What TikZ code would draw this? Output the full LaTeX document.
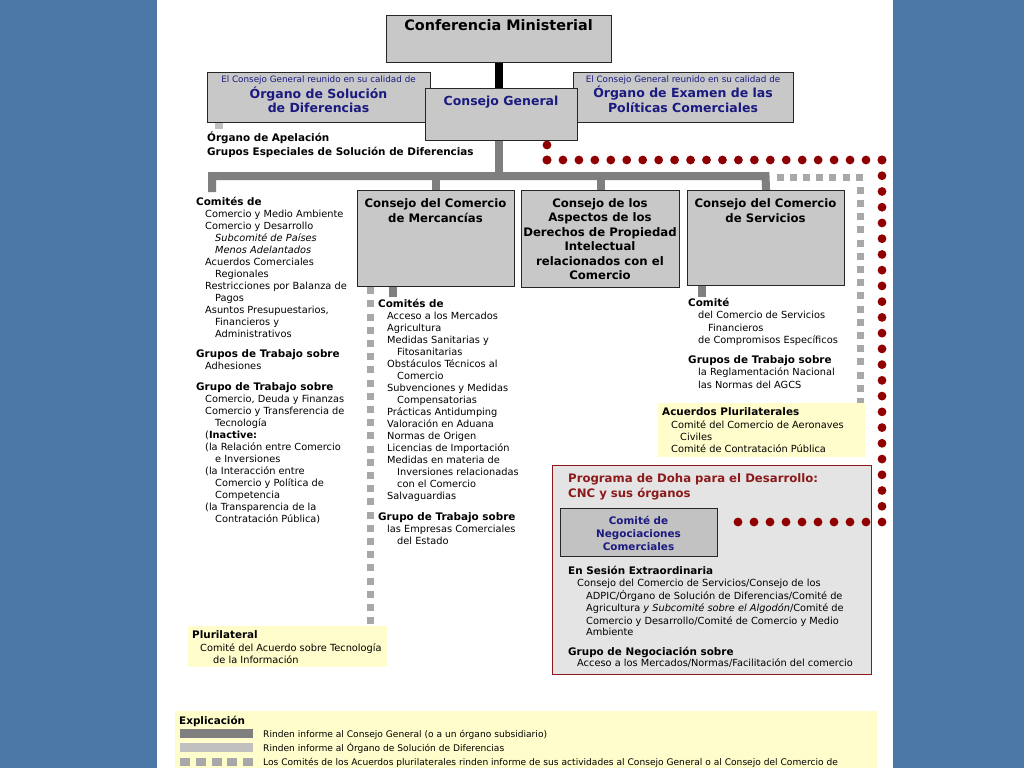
\documentclass[tikz,border=0pt]{standalone}
\usepackage{fontspec}
\setmainfont{DejaVu Sans}
\definecolor{bgblue}{HTML}{4C78A8}
\definecolor{boxgray}{HTML}{C8C8C8}
\definecolor{cncgray}{HTML}{C2C2C2}
\definecolor{dohagray}{HTML}{E4E4E4}
\definecolor{barA}{HTML}{7F7F7F}
\definecolor{barB}{HTML}{C0C0C0}
\definecolor{sqgray}{HTML}{A8A8A8}
\definecolor{pyellow}{HTML}{FFFDCC}
\definecolor{tblue}{HTML}{1A1A80}
\definecolor{dred}{HTML}{8C1A1A}
\definecolor{dotred}{HTML}{900000}
\newcommand\fbody{\fontsize{9.8}{12}\selectfont}
\newcommand\fhead{\fontsize{10.4}{12}\selectfont\bfseries}
\newcommand\fsmall{\fontsize{8.8}{10}\selectfont}
\newcommand\flegend{\fontsize{9.1}{10}\selectfont}
\newcommand\ftitle{\fontsize{11.7}{14}\selectfont\bfseries}
\newcommand\fbig{\fontsize{12.5}{14}\selectfont\bfseries}
\newcommand\fconf{\fontsize{14.4}{16}\selectfont\bfseries}
\newcounter{lnc}
\newcommand\Ln[4][]{\stepcounter{lnc}\node[txt,#1] (ln\arabic{lnc}) at (#2,#3) {#4};}
\begin{document}
\begin{tikzpicture}[x=1pt,y=-1pt,
  box/.style={draw=black!85, line width=1.1pt, fill=boxgray, inner sep=0pt, anchor=north west},
  ybox/.style={fill=pyellow, inner sep=0pt, anchor=north west},
  txt/.style={anchor=base west, inner sep=0pt, font=\fbody},
  ctxt/.style={anchor=base, inner sep=0pt},
  blackbar/.style={draw=black, line width=8pt},
  darkbar/.style={draw=barA, line width=8pt},
  lightbar/.style={draw=barB, line width=8pt},
  sqline/.style={draw=sqgray, line width=7pt, dash pattern=on 7pt off 6.2pt},
  reddots/.style={draw=dotred, line width=8.8pt, line cap=round, dash pattern=on 0pt off #1pt}]
\useasboundingbox (0,0) rectangle (1024,768);
\fill[bgblue] (0,0) rectangle (1024,768);
\fill[white] (157,0) rectangle (893,768);

% ---------- boxes ----------
\node[box, minimum width=225pt, minimum height=47pt] (cm) at (386,15) {};
\node[box, minimum width=223pt, minimum height=50pt] (osd) at (207,72) {};
\node[box, minimum width=220pt, minimum height=50pt] (oepc) at (573,72) {};
\node[box, minimum width=152pt, minimum height=52pt] (cg) at (425,88) {};
\node[box, minimum width=157pt, minimum height=96pt] (merc) at (357,190) {};
\node[box, minimum width=158pt, minimum height=97pt] (trips) at (521,190) {};
\node[box, minimum width=157pt, minimum height=95pt] (serv) at (687,190) {};
\node[ybox, minimum width=207pt, minimum height=54pt] (acu) at (658,403) {};
\node[box, draw=dred, line width=1pt, fill=dohagray, minimum width=319pt, minimum height=209pt] (doha) at (552,465) {};
\node[box, fill=cncgray, minimum width=157pt, minimum height=48pt] (cnc) at (560,508) {};
\node[ybox, minimum width=199pt, minimum height=41pt] (plu) at (188,626) {};
\node[ybox, minimum width=702pt, minimum height=57pt] (leg) at (175,711) {};

% ---------- connectors ----------
\draw[blackbar] (cm.south) -- (cm.south |- cg.north);
\coordinate (barL) at (212,176);
\coordinate (barR) at (765.5,176);
\coordinate (comL) at (212,192);
\draw[darkbar] (cm.south |- cg.south) -- (cm.south |- barL);
\draw[darkbar] (comL) -- (barL) -- (barR) -- (serv.north);
\draw[darkbar] (merc.north |- barL) -- (merc.north);
\draw[darkbar] (trips.north |- barL) -- (trips.north);
\draw[darkbar] ([xshift=36pt]merc.south west) -- ++(0,10);
\draw[darkbar] ([xshift=15pt]serv.south west) -- ++(0,11);
\draw[lightbar] ([xshift=12pt]osd.south west) -- ++(0,6);
% plurilateral (squares)
\coordinate (sqc) at (860,177);
\draw[sqline] (776.5,177) -- ([xshift=3.5pt]sqc);
\draw[sqline] ([yshift=-9.8pt]sqc) -- (sqc |- acu.north);
\draw[sqline] ([xshift=13pt]merc.south west) -- ([xshift=13pt]merc.south west |- plu.north);
% CNC to Consejo General (red dots)
\coordinate (r0) at (547,145);
\coordinate (r1) at (547,160);
\coordinate (r2) at (882,160);
\coordinate (r3) at (882,522);
\coordinate (r4) at ([xshift=5pt]cnc.east |- r3);
\draw[reddots=15] (r1) -- (r0);
\draw[reddots=15.95] (r1) -- (r2);
\draw[reddots=15.74] (r2) -- (r3);
\draw[reddots=16] (r3) -- (r4);

% ---------- top texts ----------
\node[ctxt, font=\fconf] (cmT) at (498.5,31) {Conferencia Ministerial};
\node[ctxt, font=\fsmall, text=tblue] (osdS) at (318.5,82) {El Consejo General reunido en su calidad de};
\node[ctxt, font=\fbig, text=tblue] (osdT1) at (318.5,98) {Órgano de Solución};
\node[ctxt, font=\fbig, text=tblue] (osdT2) at (318.5,112) {de Diferencias};
\node[ctxt, font=\fsmall, text=tblue] (oepcS) at (683,82) {El Consejo General reunido en su calidad de};
\node[ctxt, font=\fbig, text=tblue] (oepcT1) at (683,97.5) {Órgano de Examen de las};
\node[ctxt, font=\fbig, text=tblue] (oepcT2) at (683,112) {Políticas Comerciales};
\node[ctxt, font=\fbig, text=tblue] (cgT) at (501,105) {Consejo General};
\Ln[font=\fhead]{207}{141}{Órgano de Apelación}
\Ln[font=\fhead]{207}{155}{Grupos Especiales de Solución de Diferencias}

% ---------- council boxes ----------
\node[ctxt, font=\ftitle] (mT1) at (435.5,207.5) {Consejo del Comercio};
\node[ctxt, font=\ftitle] (mT2) at (435.5,222) {de Mercancías};
\node[ctxt, font=\ftitle] (tT1) at (600,207.5) {Consejo de los};
\node[ctxt, font=\ftitle] (tT2) at (600,221.9) {Aspectos de los};
\node[ctxt, font=\ftitle] (tT3) at (600,236.3) {Derechos de Propiedad};
\node[ctxt, font=\ftitle] (tT4) at (600,250.7) {Intelectual};
\node[ctxt, font=\ftitle] (tT5) at (600,265.1) {relacionados con el};
\node[ctxt, font=\ftitle] (tT6) at (600,279.5) {Comercio};
\node[ctxt, font=\ftitle] (sT1) at (765.5,207.5) {Consejo del Comercio};
\node[ctxt, font=\ftitle] (sT2) at (765.5,222) {de Servicios};

% ---------- left column ----------
\Ln[font=\fhead]{196}{205}{Comités de}
\Ln{205}{217}{Comercio y Medio Ambiente}
\Ln{205}{229}{Comercio y Desarrollo}
\Ln{215}{241}{\itshape Subcomité de Países}
\Ln{215}{253}{\itshape Menos Adelantados}
\Ln{205}{265}{Acuerdos Comerciales}
\Ln{215}{277}{Regionales}
\Ln{205}{289}{Restricciones por Balanza de}
\Ln{215}{301}{Pagos}
\Ln{205}{313}{Asuntos Presupuestarios,}
\Ln{215}{325}{Financieros y}
\Ln{215}{337}{Administrativos}
\Ln[font=\fhead]{196}{357}{Grupos de Trabajo sobre}
\Ln{205}{369}{Adhesiones}
\Ln[font=\fhead]{196}{390}{Grupo de Trabajo sobre}
\Ln{205}{402}{Comercio, Deuda y Finanzas}
\Ln{205}{414}{Comercio y Transferencia de}
\Ln{215}{426}{Tecnología}
\Ln{205}{438}{(\textbf{Inactive:}}
\Ln{205}{450}{(la Relación entre Comercio}
\Ln{215}{462}{e Inversiones}
\Ln{205}{474}{(la Interacción entre}
\Ln{215}{486}{Comercio y Política de}
\Ln{215}{498}{Competencia}
\Ln{205}{510}{(la Transparencia de la}
\Ln{215}{522}{Contratación Pública)}

% ---------- goods column ----------
\Ln[font=\fhead]{378}{307}{Comités de}
\Ln{387}{319}{Acceso a los Mercados}
\Ln{387}{331}{Agricultura}
\Ln{387}{343}{Medidas Sanitarias y}
\Ln{397}{355}{Fitosanitarias}
\Ln{387}{367}{Obstáculos Técnicos al}
\Ln{397}{379}{Comercio}
\Ln{387}{391}{Subvenciones y Medidas}
\Ln{397}{403}{Compensatorias}
\Ln{387}{415}{Prácticas Antidumping}
\Ln{387}{427}{Valoración en Aduana}
\Ln{387}{439}{Normas de Origen}
\Ln{387}{451}{Licencias de Importación}
\Ln{387}{463}{Medidas en materia de}
\Ln{397}{475}{Inversiones relacionadas}
\Ln{397}{487}{con el Comercio}
\Ln{387}{499}{Salvaguardias}
\Ln[font=\fhead]{378}{520}{Grupo de Trabajo sobre}
\Ln{387}{532}{las Empresas Comerciales}
\Ln{397}{544}{del Estado}

% ---------- services column ----------
\Ln[font=\fhead]{688}{306}{Comité}
\Ln{698}{318}{del Comercio de Servicios}
\Ln{708}{331}{Financieros}
\Ln{698}{343}{de Compromisos Específicos}
\Ln[font=\fhead]{688}{363}{Grupos de Trabajo sobre}
\Ln{698}{375}{la Reglamentación Nacional}
\Ln{698}{388}{las Normas del AGCS}

% ---------- plurilateral boxes ----------
\Ln[font=\fhead]{662}{415.5}{Acuerdos Plurilaterales}
\Ln{671}{428}{Comité del Comercio de Aeronaves}
\Ln{680}{440}{Civiles}
\Ln{671}{452}{Comité de Contratación Pública}
\Ln[font=\fhead]{192}{638}{Plurilateral}
\Ln{200}{651}{Comité del Acuerdo sobre Tecnología}
\Ln{213}{663.5}{de la Información}

% ---------- Doha ----------
\Ln[font=\ftitle, text=dred]{568}{482.5}{Programa de Doha para el Desarrollo:}
\Ln[font=\ftitle, text=dred]{568}{497.5}{CNC y sus órganos}
\node[ctxt, font=\fhead, text=tblue] (cnc1) at (638.5,524) {Comité de};
\node[ctxt, font=\fhead, text=tblue] (cnc2) at (638.5,537) {Negociaciones};
\node[ctxt, font=\fhead, text=tblue] (cnc3) at (638.5,550) {Comerciales};
\Ln[font=\fhead]{568}{574}{En Sesión Extraordinaria}
\Ln{577}{586.7}{Consejo del Comercio de Servicios/Consejo de los}
\Ln{586}{599}{ADPIC/Órgano de Solución de Diferencias/Comité de}
\Ln{586}{611.5}{Agricultura \textit{y Subcomité sobre el Algodón}/Comité de}
\Ln{586}{624}{Comercio y Desarrollo/Comité de Comercio y Medio}
\Ln{586}{635.7}{Ambiente}
\Ln[font=\fhead]{568}{655.7}{Grupo de Negociación sobre}
\Ln{577}{666.7}{Acceso a los Mercados/Normas/Facilitación del comercio}

% ---------- legend ----------
\Ln[font=\fhead]{179}{724}{Explicación}
\fill[barA] (180,729) rectangle (253,738);
\fill[barB] (180,743) rectangle (253,752);
\foreach \i in {0,...,4} \fill[sqgray] (180+15.75*\i,758) rectangle ++(10,8);
\Ln[font=\flegend]{263}{737}{Rinden informe al Consejo General (o a un órgano subsidiario)}
\Ln[font=\flegend]{263}{751}{Rinden informe al Órgano de Solución de Diferencias}
\Ln[font=\flegend]{263}{765}{Los Comités de los Acuerdos plurilaterales rinden informe de sus actividades al Consejo General o al Consejo del Comercio de}
\end{tikzpicture}
\end{document}
